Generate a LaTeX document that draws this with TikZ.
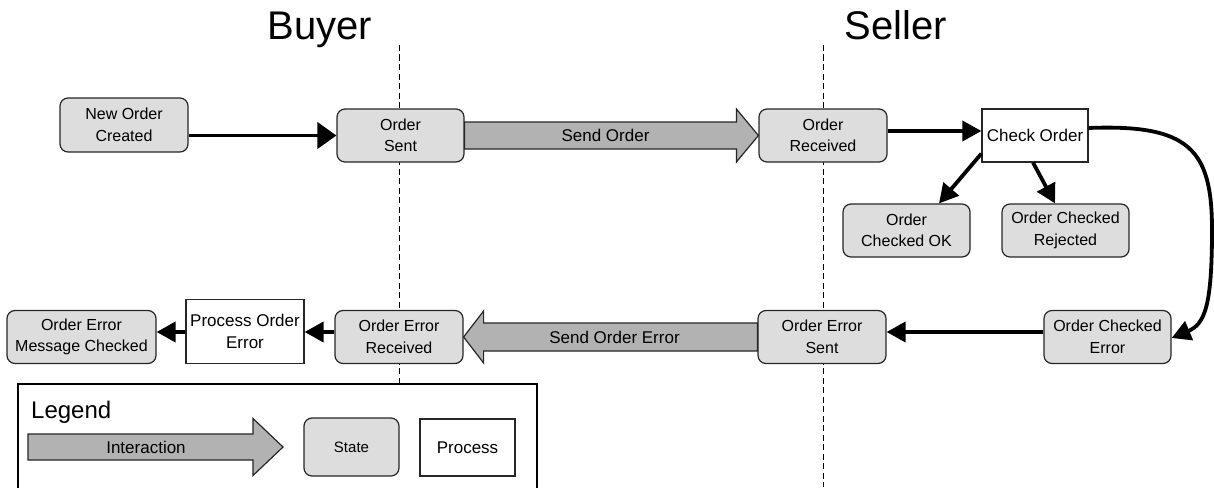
\documentclass[tikz,border=0pt]{standalone}
\usepackage{fontspec}
\setmainfont{Liberation Sans}
\usetikzlibrary{calc,arrows.meta}
\definecolor{statefill}{HTML}{DDDDDD}
\definecolor{arrowfill}{HTML}{B2B2B2}
\definecolor{edgecol}{HTML}{262626}
\begin{document}
\begin{tikzpicture}[x=1pt,y=-1pt,
 state/.style={draw=edgecol, line width=1.2pt, fill=statefill, rounded corners=8pt, align=center, inner sep=0pt, font=\fontsize{16}{21.5}\selectfont},
 proc/.style={draw=edgecol, line width=1.2pt, fill=white, align=center, inner sep=0pt, font=\fontsize{17}{22}\selectfont},
 conn/.style={line width=3.8pt, -{Triangle[length=19pt,width=20pt]}},
 iarrow/.style={draw=edgecol, line width=1.2pt, fill=arrowfill, line join=miter},
 lane/.style={dash pattern=on 6pt off 3.5pt, line width=0.9pt},
 title/.style={font=\fontsize{40}{42}\selectfont, anchor=base},
 lbl/.style={font=\fontsize{17}{17}\selectfont, inner sep=0pt}
]
\useasboundingbox (0,0) rectangle (1214,487);

% titles and swimlane lines
\node[title] (buyer) at (320,40) {Buyer};
\node[title] (seller) at (896,40) {Seller};
\coordinate (l1t) at (399,45);
\coordinate (l1b) at (399,487);
\coordinate (l2t) at (823,45);
\coordinate (l2b) at (823,487);
\draw[lane] (l1t) -- (l1b);
\draw[lane] (l2t) -- (l2b);

% top row
\node[state, minimum width=128pt, minimum height=54pt] (noc) at (124,125) {New Order\\Created};
\node[state, minimum width=127pt, minimum height=53pt] (os) at (400.5,135.5) {Order\\Sent};
\node[state, minimum width=128pt, minimum height=53pt] (orc) at (823,135.5) {Order\\Received};
\node[proc, minimum width=106pt, minimum height=53pt] (chk) at (1035,135.5) {Check Order};
\node[state, minimum width=127pt, minimum height=53pt] (cok) at (906.5,230.5) {Order\\Checked OK};
\node[state, minimum width=127pt, minimum height=53pt] (crj) at (1065.5,230.5) {Order Checked\\Rejected};

% bottom row
\node[state, minimum width=127pt, minimum height=53pt] (cer) at (1107.5,337) {Order Checked\\Error};
\node[state, minimum width=128pt, minimum height=53pt] (oes) at (822,337) {Order Error\\Sent};
\node[state, minimum width=128pt, minimum height=53pt] (oer) at (399,337) {Order Error\\Received};
\node[proc, minimum width=118pt, minimum height=64pt] (poe) at (245,331.5) {Process Order\\Error};
\node[state, minimum width=149pt, minimum height=53pt] (omc) at (81.5,337) {Order Error\\Message Checked};

% connectors
\draw[conn, -{Triangle[length=19pt,width=26pt]}] (noc.east |- os.west) -- (os.west);
\draw[conn] ($(orc.east)+(0,-4.5)$) -- ($(chk.west)+(0,-4.5)$);
\draw[conn] ($(chk.south west)+(0,-9)$) -- ($(cok.north)+(32.5,0)$);
\draw[conn] ($(chk.south)+(-2,0)$) -- ($(crj.north)+(-10.5,0)$);
\draw[conn] ($(chk.east)+(0,-7.5)$) .. controls (1190,124) and (1212,150) .. (1212,230) .. controls (1212,305) and (1205,324) .. ($(cer.east)+(0,1)$);
\draw[conn] ($(cer.west)+(0,-5)$) coordinate (c1) -- (c1 -| oes.east);
\draw[conn] ($(oer.west)+(0,-5)$) coordinate (c2) -- (c2 -| poe.east);
\draw[conn] ($(poe.west)+(0,0.5)$) coordinate (c3) -- (c3 -| omc.east);

% interaction arrows
\path (os.east) coordinate (so1) (orc.west) coordinate (so2);
\draw[iarrow] ($(so1)+(0,-13.5)$) -- ($(so2)+(-22,-13.5)$) -- ($(so2)+(-22,-26.5)$) -- (so2) -- ($(so2)+(-22,26.5)$) -- ($(so2)+(-22,13.5)$) -- ($(so1)+(0,13.5)$) -- cycle;
\node[lbl] (sol) at ($(so1)!0.5!(so2)+(-6,0)$) {Send Order};

\path (oes.west) coordinate (se1) (oer.east) coordinate (se2);
\draw[iarrow] ($(se1)+(0,-14)$) -- ($(se2)+(20,-14)$) -- ($(se2)+(20,-26)$) -- (se2) -- ($(se2)+(20,26)$) -- ($(se2)+(20,14)$) -- ($(se1)+(0,14)$) -- cycle;
\node[lbl] (sel) at ($(se1)!0.5!(se2)+(4,0)$) {Send Order Error};

% legend
\draw[draw=black, line width=1.2pt, fill=white] (18,492) -- (18,384) -- (537,384) -- (537,492);
\node[anchor=base west, inner sep=0pt, font=\fontsize{24}{24}\selectfont] (leg) at (31,418) {Legend};
\draw[iarrow] (28,434) -- (253,434) -- (253,418.5) -- (283,447) -- (253,475.5) -- (253,460) -- (28,460) -- cycle;
\node[lbl] (inter) at (146,447) {Interaction};
\node[state, minimum width=95pt, minimum height=58pt, font=\fontsize{15}{15}\selectfont] (lstate) at (351.5,447) {State};
\node[proc, minimum width=95pt, minimum height=57pt] (lproc) at (467.5,447.5) {Process};
\end{tikzpicture}
\end{document}
